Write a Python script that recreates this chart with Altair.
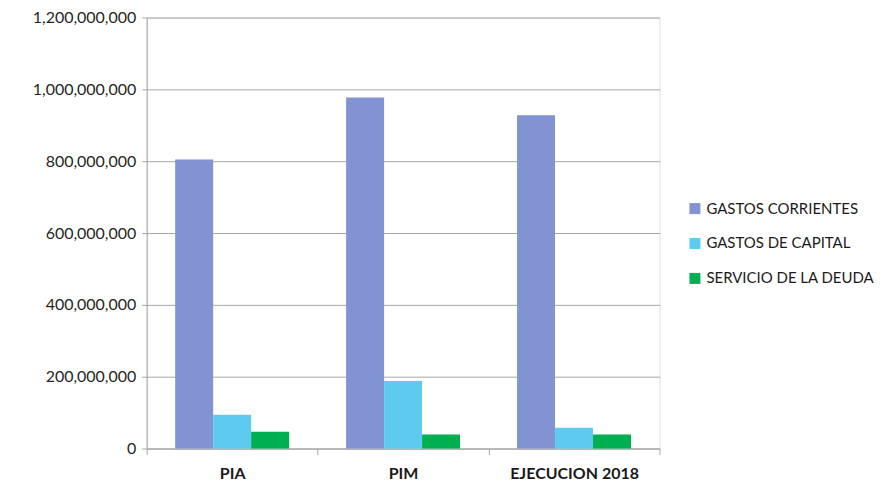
import altair as alt
import pandas as pd

categories = ["PIA", "PIM", "EJECUCION 2018"]
series = ["GASTOS CORRIENTES", "GASTOS DE CAPITAL", "SERVICIO DE LA DEUDA"]
gastos_corrientes = [805_000_000, 977_000_000, 928_000_000]
gastos_capital = [94_000_000, 188_000_000, 58_000_000]
servicio_deuda = [47_000_000, 39_000_000, 39_000_000]
colors = ["#8193D3", "#5DCBF0", "#00B050"]
y_ticks = [0, 200_000_000, 400_000_000, 600_000_000, 800_000_000, 1_000_000_000, 1_200_000_000]

rows = []
for s, vals in zip(series, [gastos_corrientes, gastos_capital, servicio_deuda]):
    for c, v in zip(categories, vals):
        rows.append({"cat": c, "serie": s, "valor": v})
df = pd.DataFrame(rows)

FONT = "Lato"

chart = alt.Chart(df).mark_bar().encode(
    x=alt.X("cat:N", sort=categories,
            scale=alt.Scale(paddingInner=0, paddingOuter=0),
            axis=alt.Axis(title=None, labelAngle=0, labelFontWeight="bold",
                          labelFontSize=16, labelColor="#1a1a1a", labelPadding=11,
                          domainColor="#A6A6A6", tickColor="#A6A6A6", tickSize=6,
                          tickBand="extent", grid=False, labelFont=FONT)),
    xOffset=alt.XOffset("serie:N", sort=series,
                        scale=alt.Scale(paddingInner=0, paddingOuter=0.75)),
    y=alt.Y("valor:Q",
            scale=alt.Scale(domain=[0, 1_200_000_000], nice=False),
            axis=alt.Axis(title=None, values=y_ticks, format=",d",
                          labelFontSize=16, labelColor="#262626", labelPadding=6,
                          domainColor="#A6A6A6", tickColor="#A6A6A6", tickSize=5,
                          gridColor="#A6A6A6", gridWidth=1, labelFont=FONT)),
    color=alt.Color("serie:N", sort=series,
                    scale=alt.Scale(domain=series, range=colors),
                    legend=alt.Legend(title=None, orient="none", legendX=542, legendY=184,
                                      symbolType="square", symbolSize=121,
                                      symbolStrokeWidth=0, labelFontSize=15,
                                      labelColor="#1a1a1a", rowPadding=19,
                                      labelFont=FONT, labelOffset=4, labelLimit=300)),
).properties(
    width=514, height=432,
    autosize=alt.AutoSizeParams(type="none"),
    padding={"left": 139, "top": 9, "right": 220, "bottom": 34},
).configure_view(stroke=None).configure(background="white")

chart.save("out.html", embed_options={"renderer": "svg", "actions": False})
